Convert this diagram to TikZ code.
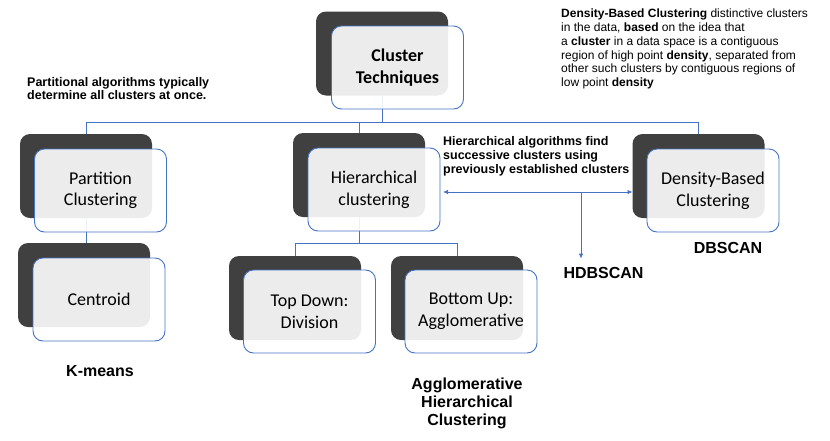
\documentclass[tikz,border=0pt]{standalone}
\usepackage{fontspec}
\setmainfont{Liberation Sans}
\newfontfamily\calibri{Carlito}
\usetikzlibrary{arrows.meta,calc}

\definecolor{backgray}{HTML}{404040}
\definecolor{lineblue}{HTML}{4472C4}

\tikzset{
  backbox/.style={fill=backgray, rounded corners=10pt, minimum width=132pt, minimum height=84pt, inner sep=0pt, outer sep=0pt},
  frontbox/.style={draw=lineblue, line width=0.9pt, fill=white, fill opacity=0.9, text opacity=1, rounded corners=10pt,
    minimum width=132pt, minimum height=83pt, inner sep=0pt, outer sep=0pt, align=center,
    font=\calibri\fontsize{18}{21.6}\selectfont},
  link/.style={draw=lineblue, line width=0.8pt},
  tipped/.style={link, -{Latex[length=5pt,width=4.5pt]}},
  note/.style={font=\bfseries\fontsize{12.5}{14}\selectfont, align=left, inner sep=0pt, anchor=north west},
  algo/.style={font=\bfseries\fontsize{16}{18}\selectfont, align=center, inner sep=0pt}
}

\begin{document}
\begin{tikzpicture}[x=1pt,y=-1pt]
\fill[white] (0,0) rectangle (830,440);
\useasboundingbox (0,0) rectangle (830,440);

% dark boxes behind
\node[backbox] (ctB) at (382,53.5) {};
\node[backbox] (ptB) at (86,176) {};
\node[backbox] (cnB) at (84,285) {};
\node[backbox] (hB) at (359,175) {};
\node[backbox] (tdB) at (295,298) {};
\node[backbox] (buB) at (457,298) {};
\node[backbox] (dbB) at (698.5,176) {};

% tree lines
\coordinate (ctBus) at (382,122);
\coordinate (hBus) at (359,243);
\draw[link] (ctB.south) -- (ctBus) -| (ptB.north);
\draw[link] (ctB.south) -- (ctBus) -| (hB.north);
\draw[link] (ctB.south) -- (ctBus) -| (dbB.north);
\draw[link] (ptB.south) -- (ptB.south |- cnB.north);
\draw[link] (hB.south) -- (hBus) -| (tdB.north);
\draw[link] (hB.south) -- (hBus) -| (buB.north);

% front boxes
\node[frontbox] (ctF) at (397.5,67.5) {\bfseries Cluster\\\bfseries Techniques};
\node[frontbox] (ptF) at (100.5,190.5) {Partition\\Clustering};
\node[frontbox] (cnF) at (99,299.5) {Centroid};
\node[frontbox] (hF) at (374,189.5) {Hierarchical\\clustering};
\node[frontbox] (tdF) at (309.5,311.5) {Top Down:\\Division};
\node[frontbox] (buF) at (471,311.5) {Bottom Up:\\Agglomerative};
\node[frontbox] (dbF) at (713,190.5) {Density-Based\\Clustering};

% notes
\node[note, font=\bfseries\fontsize{12.5}{11.5}\selectfont] (partNote) at (27,77.5)
  {Partitional algorithms typically\\determine all clusters at once.};
\node[note] (hierNote) at (443,136.5)
  {Hierarchical algorithms find\\successive clusters using\\previously established clusters};
\node[note, font=\fontsize{12}{13.7}\selectfont] (densNote) at (561,9)
  {\textbf{Density-Based Clustering} distinctive clusters\\
   in the data, \textbf{based} on the idea that\\
   a \textbf{cluster} in a data space is a contiguous\\
   region of high point \textbf{density}, separated from\\
   other such clusters by contiguous regions of\\
   low point \textbf{density}};

% algorithm names
\node[algo, anchor=base] (kmeans) at (100,376) {K-means};
\node[algo, anchor=north] (agglo) at (467,377.5) {Agglomerative\\Hierarchical\\Clustering};
\node[algo, anchor=base] (hdb) at (603.5,278) {HDBSCAN};
\node[algo, anchor=base] (dbscan) at (728,253) {DBSCAN};

% arrows
\coordinate (fork) at (581,192);
\draw[link, {Latex[length=5pt,width=4.5pt]}-{Latex[length=5pt,width=4.5pt]}, shorten <=3pt]
  (hF.east |- fork) -- (fork -| dbB.west);
\draw[tipped] (fork) -- ($(fork |- hdb.north)+(0,-8)$);
\end{tikzpicture}
\end{document}
